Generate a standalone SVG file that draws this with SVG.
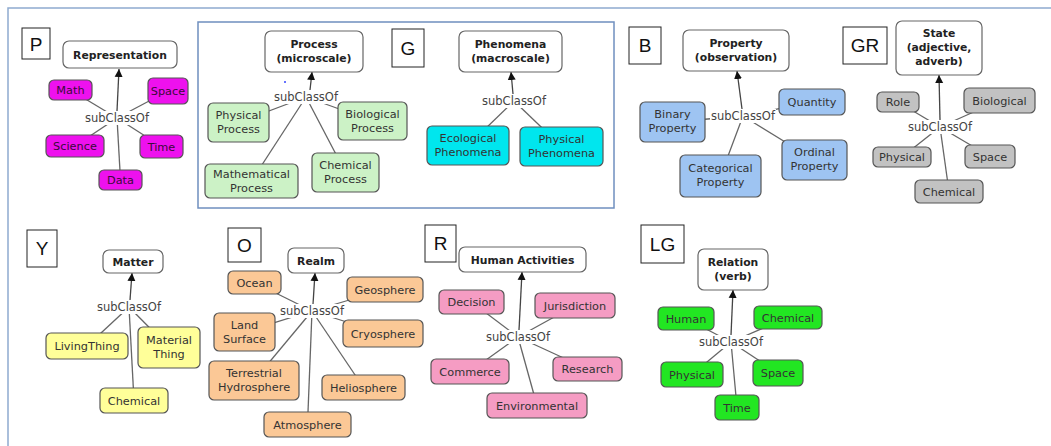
<svg xmlns="http://www.w3.org/2000/svg" width="1051" height="446" viewBox="0 0 1051 446">
<defs>
<marker id="ah" viewBox="0 0 10 10" refX="10" refY="5" markerWidth="8" markerHeight="9" markerUnits="userSpaceOnUse" orient="auto"><path d="M0,0 L10,5 L0,10 z" fill="#111"/></marker>
<style>
.frame{fill:none;stroke:#8eaad0;stroke-width:1.5}
.inner{fill:none;stroke:#6f8fbf;stroke-width:1.5}
.lbox{fill:#fff;stroke:#222;stroke-width:1}
.ltxt{font-family:"Liberation Sans",Arial,sans-serif;font-size:19px;fill:#111;text-anchor:middle}
.n rect{stroke:#555;stroke-width:1.2}
.n text{font-family:"DejaVu Sans",Verdana,sans-serif;font-size:11.3px;fill:#333;text-anchor:middle}
.top rect{fill:#fff;stroke:#666;stroke-width:1.2}
.top text{font-family:"DejaVu Sans",Verdana,sans-serif;font-size:10.8px;font-weight:bold;fill:#222;text-anchor:middle}
.lp rect{fill:#fff;stroke:none}
.lp text{font-family:"DejaVu Sans",Verdana,sans-serif;font-size:11.5px;fill:#444;text-anchor:middle}
.c line{stroke:#666;stroke-width:1.3}
.c line.ar{stroke:#444;marker-end:url(#ah)}
.mag rect{fill:#ee11ee}
.mag text{fill:#3a0a3a}
.lgr rect{fill:#ccf2c6}
.cy rect{fill:#00e6ee}
.bl rect{fill:#9ec4f2}
.gy rect{fill:#c2c2c2}
.ye rect{fill:#ffff99}
.or rect{fill:#fbc896}
.pk rect{fill:#f59cc3}
.gr rect{fill:#22e622}
</style>
</defs>
<rect width="1051" height="446" fill="#fff"/>
<rect class="frame" x="8" y="8" width="1100" height="500"/>
<rect class="inner" x="198" y="22" width="416" height="186"/>

<!-- letter labels -->
<g id="lab-P"><rect class="lbox" x="22" y="28" width="28" height="31"/><text class="ltxt" x="36" y="50.5">P</text></g>
<g id="lab-G"><rect class="lbox" x="392" y="29" width="32" height="38"/><text class="ltxt" x="408" y="55">G</text></g>
<g id="lab-B"><rect class="lbox" x="629" y="27" width="32" height="37"/><text class="ltxt" x="645" y="52">B</text></g>
<g id="lab-GR"><rect class="lbox" x="843" y="27" width="44" height="37"/><text class="ltxt" x="865" y="52">GR</text></g>
<g id="lab-Y"><rect class="lbox" x="27" y="230" width="30" height="37"/><text class="ltxt" x="42" y="255">Y</text></g>
<g id="lab-O"><rect class="lbox" x="228" y="228" width="33" height="34"/><text class="ltxt" x="244.5" y="252">O</text></g>
<g id="lab-R"><rect class="lbox" x="425" y="225" width="31" height="37"/><text class="ltxt" x="440.5" y="250">R</text></g>
<g id="lab-LG"><rect class="lbox" x="641" y="225" width="43" height="38"/><text class="ltxt" x="662.5" y="251">LG</text></g>

<circle cx="285" cy="82" r="1" fill="#3344ff"/>

<g id="connectors" class="c">
<!-- P -->
<line class="ar" x1="117" y1="111" x2="119" y2="69"/>
<line x1="117" y1="118" x2="70.5" y2="90"/>
<line x1="117" y1="118" x2="168" y2="91"/>
<line x1="117" y1="118" x2="75" y2="146"/>
<line x1="117" y1="118" x2="161.5" y2="146.5"/>
<line x1="117" y1="118" x2="120.5" y2="180"/>
<!-- Process -->
<line class="ar" x1="310" y1="90" x2="312" y2="72"/>
<line x1="306" y1="97" x2="238.5" y2="122.5"/>
<line x1="306" y1="97" x2="372.5" y2="121"/>
<line x1="306" y1="97" x2="251.5" y2="181"/>
<line x1="306" y1="97" x2="345.5" y2="172.5"/>
<!-- Phenomena -->
<line class="ar" x1="513" y1="94" x2="511" y2="72"/>
<line x1="514" y1="101" x2="468" y2="145.5"/>
<line x1="514" y1="101" x2="561.5" y2="146.5"/>
<!-- Property -->
<line class="ar" x1="742" y1="109" x2="737" y2="71"/>
<line x1="743" y1="116" x2="672.5" y2="122"/>
<line x1="743" y1="116" x2="812" y2="102"/>
<line x1="743" y1="116" x2="720.5" y2="176"/>
<line x1="743" y1="116" x2="814.5" y2="160"/>
<!-- State -->
<line class="ar" x1="940" y1="120" x2="939" y2="75"/>
<line x1="940" y1="127" x2="898" y2="102"/>
<line x1="940" y1="127" x2="999.5" y2="100.5"/>
<line x1="940" y1="127" x2="902" y2="157"/>
<line x1="940" y1="127" x2="990" y2="156.5"/>
<line x1="940" y1="127" x2="949" y2="191.5"/>
<!-- Matter -->
<line class="ar" x1="130" y1="300" x2="132" y2="273"/>
<line x1="129" y1="307" x2="87" y2="346"/>
<line x1="129" y1="307" x2="169" y2="347.5"/>
<line x1="129" y1="307" x2="134" y2="400.5"/>
<!-- Realm -->
<line class="ar" x1="313" y1="304" x2="315" y2="273"/>
<line x1="312" y1="311" x2="254.5" y2="282.5"/>
<line x1="312" y1="311" x2="385" y2="289.5"/>
<line x1="312" y1="311" x2="244.5" y2="332"/>
<line x1="312" y1="311" x2="383" y2="333.5"/>
<line x1="312" y1="311" x2="254" y2="380.5"/>
<line x1="312" y1="311" x2="363.5" y2="387.5"/>
<line x1="312" y1="311" x2="307.5" y2="424.5"/>
<!-- Human Activities -->
<line class="ar" x1="519" y1="330" x2="522" y2="272"/>
<line x1="518" y1="337" x2="471.5" y2="302"/>
<line x1="518" y1="337" x2="575" y2="305.5"/>
<line x1="518" y1="337" x2="470" y2="371.5"/>
<line x1="518" y1="337" x2="587.5" y2="369"/>
<line x1="518" y1="337" x2="537" y2="405.5"/>
<!-- Relation -->
<line class="ar" x1="731" y1="335" x2="733" y2="290"/>
<line x1="731" y1="342" x2="686" y2="318.5"/>
<line x1="731" y1="342" x2="788" y2="317.5"/>
<line x1="731" y1="342" x2="692" y2="374.5"/>
<line x1="731" y1="342" x2="778" y2="373"/>
<line x1="731" y1="342" x2="737" y2="407.5"/>
</g>

<!-- linking phrases -->
<g id="lp-P" class="lp"><rect x="84" y="111" width="66" height="14"/><text x="117" y="122">subClassOf</text></g>
<g id="lp-Process" class="lp"><rect x="273" y="90" width="66" height="14"/><text x="306" y="101">subClassOf</text></g>
<g id="lp-Phen" class="lp"><rect x="481" y="94" width="66" height="14"/><text x="514" y="105">subClassOf</text></g>
<g id="lp-B" class="lp"><rect x="710" y="109" width="66" height="14"/><text x="743" y="120">subClassOf</text></g>
<g id="lp-GR" class="lp"><rect x="907" y="120" width="66" height="14"/><text x="940" y="131">subClassOf</text></g>
<g id="lp-Y" class="lp"><rect x="96" y="300" width="66" height="14"/><text x="129" y="311">subClassOf</text></g>
<g id="lp-O" class="lp"><rect x="279" y="304" width="66" height="14"/><text x="312" y="315">subClassOf</text></g>
<g id="lp-R" class="lp"><rect x="485" y="330" width="66" height="14"/><text x="518" y="341">subClassOf</text></g>
<g id="lp-LG" class="lp"><rect x="698" y="335" width="66" height="14"/><text x="731" y="346">subClassOf</text></g>

<!-- P -->
<g id="Representation" class="n top"><rect x="63" y="41" width="114" height="27" rx="6"/><text x="120" y="58.5">Representation</text></g>
<g id="P-Math" class="n mag"><rect x="49" y="80" width="43" height="20" rx="5"/><text x="70.5" y="94">Math</text></g>
<g id="P-Space" class="n mag"><rect x="148" y="78" width="40" height="26" rx="5"/><text x="168" y="95">Space</text></g>
<g id="P-Science" class="n mag"><rect x="46" y="135" width="58" height="22" rx="5"/><text x="75" y="150">Science</text></g>
<g id="P-Time" class="n mag"><rect x="140" y="135" width="43" height="23" rx="5"/><text x="161.5" y="150.5">Time</text></g>
<g id="P-Data" class="n mag"><rect x="99" y="170" width="43" height="20" rx="5"/><text x="120.5" y="184">Data</text></g>

<!-- Process -->
<g id="Process" class="n top"><rect x="265" y="31" width="98" height="41" rx="6"/><text x="314" y="48">Process</text><text x="314" y="62">(microscale)</text></g>
<g id="G-PhysProc" class="n lgr"><rect x="208" y="103" width="61" height="39" rx="5"/><text x="238.5" y="119">Physical</text><text x="238.5" y="133">Process</text></g>
<g id="G-BioProc" class="n lgr"><rect x="338" y="102" width="69" height="38" rx="5"/><text x="372.5" y="118">Biological</text><text x="372.5" y="132">Process</text></g>
<g id="G-MathProc" class="n lgr"><rect x="205" y="164" width="93" height="34" rx="5"/><text x="251.5" y="178">Mathematical</text><text x="251.5" y="192">Process</text></g>
<g id="G-ChemProc" class="n lgr"><rect x="312" y="153" width="67" height="39" rx="5"/><text x="345.5" y="169">Chemical</text><text x="345.5" y="183">Process</text></g>

<!-- Phenomena -->
<g id="Phenomena" class="n top"><rect x="459" y="31" width="103" height="41" rx="6"/><text x="510.5" y="48">Phenomena</text><text x="510.5" y="62">(macroscale)</text></g>
<g id="G-EcoPhen" class="n cy"><rect x="427" y="126" width="82" height="39" rx="5"/><text x="468" y="142">Ecological</text><text x="468" y="156">Phenomena</text></g>
<g id="G-PhysPhen" class="n cy"><rect x="520" y="127" width="83" height="39" rx="5"/><text x="561.5" y="143">Physical</text><text x="561.5" y="157">Phenomena</text></g>

<!-- Property -->
<g id="Property" class="n top"><rect x="683" y="30" width="106" height="41" rx="6"/><text x="736" y="47">Property</text><text x="736" y="61">(observation)</text></g>
<g id="B-Binary" class="n bl"><rect x="640" y="102" width="65" height="40" rx="5"/><text x="672.5" y="118">Binary</text><text x="672.5" y="132">Property</text></g>
<g id="B-Quantity" class="n bl"><rect x="779" y="89" width="66" height="26" rx="5"/><text x="812" y="106">Quantity</text></g>
<g id="B-Categorical" class="n bl"><rect x="680" y="155" width="81" height="42" rx="5"/><text x="720.5" y="172">Categorical</text><text x="720.5" y="186">Property</text></g>
<g id="B-Ordinal" class="n bl"><rect x="782" y="140" width="65" height="40" rx="5"/><text x="814.5" y="156">Ordinal</text><text x="814.5" y="170">Property</text></g>

<!-- State -->
<g id="State" class="n top"><rect x="896" y="21" width="86" height="54" rx="6"/><text x="939" y="37">State</text><text x="939" y="51">(adjective,</text><text x="939" y="65">adverb)</text></g>
<g id="GR-Role" class="n gy"><rect x="877" y="92" width="42" height="20" rx="5"/><text x="898" y="106">Role</text></g>
<g id="GR-Biological" class="n gy"><rect x="964" y="88" width="71" height="25" rx="5"/><text x="999.5" y="104.5">Biological</text></g>
<g id="GR-Physical" class="n gy"><rect x="873" y="147" width="58" height="20" rx="5"/><text x="902" y="161">Physical</text></g>
<g id="GR-Space" class="n gy"><rect x="965" y="145" width="50" height="23" rx="5"/><text x="990" y="160.5">Space</text></g>
<g id="GR-Chemical" class="n gy"><rect x="915" y="180" width="68" height="23" rx="5"/><text x="949" y="195.5">Chemical</text></g>

<!-- Matter -->
<g id="Matter" class="n top"><rect x="103" y="250" width="60" height="23" rx="6"/><text x="133" y="265.5">Matter</text></g>
<g id="Y-Living" class="n ye"><rect x="46" y="333" width="82" height="26" rx="5"/><text x="87" y="350">LivingThing</text></g>
<g id="Y-Material" class="n ye"><rect x="138" y="327" width="62" height="41" rx="5"/><text x="169" y="344">Material</text><text x="169" y="358">Thing</text></g>
<g id="Y-Chemical" class="n ye"><rect x="100" y="388" width="68" height="25" rx="5"/><text x="134" y="404.5">Chemical</text></g>

<!-- Realm -->
<g id="Realm" class="n top"><rect x="288" y="248" width="56" height="25" rx="6"/><text x="316" y="264.5">Realm</text></g>
<g id="O-Ocean" class="n or"><rect x="228" y="271" width="53" height="23" rx="5"/><text x="254.5" y="286.5">Ocean</text></g>
<g id="O-Geosphere" class="n or"><rect x="347" y="277" width="76" height="25" rx="5"/><text x="385" y="293.5">Geosphere</text></g>
<g id="O-Land" class="n or"><rect x="214" y="313" width="61" height="38" rx="5"/><text x="244.5" y="329">Land</text><text x="244.5" y="343">Surface</text></g>
<g id="O-Cryosphere" class="n or"><rect x="343" y="320" width="80" height="27" rx="5"/><text x="383" y="337.5">Cryosphere</text></g>
<g id="O-Terrestrial" class="n or"><rect x="209" y="361" width="90" height="39" rx="5"/><text x="254" y="377">Terrestrial</text><text x="254" y="391">Hydrosphere</text></g>
<g id="O-Heliosphere" class="n or"><rect x="322" y="375" width="83" height="25" rx="5"/><text x="363.5" y="391.5">Heliosphere</text></g>
<g id="O-Atmosphere" class="n or"><rect x="264" y="412" width="87" height="25" rx="5"/><text x="307.5" y="428.5">Atmosphere</text></g>

<!-- Human Activities -->
<g id="HumanActivities" class="n top"><rect x="459" y="247" width="127" height="25" rx="6"/><text x="522.5" y="263.5">Human Activities</text></g>
<g id="R-Decision" class="n pk"><rect x="439" y="290" width="65" height="24" rx="5"/><text x="471.5" y="306">Decision</text></g>
<g id="R-Jurisdiction" class="n pk"><rect x="535" y="293" width="80" height="25" rx="5"/><text x="575" y="309.5">Jurisdiction</text></g>
<g id="R-Commerce" class="n pk"><rect x="431" y="359" width="78" height="25" rx="5"/><text x="470" y="375.5">Commerce</text></g>
<g id="R-Research" class="n pk"><rect x="553" y="357" width="69" height="24" rx="5"/><text x="587.5" y="373">Research</text></g>
<g id="R-Environmental" class="n pk"><rect x="487" y="393" width="100" height="25" rx="5"/><text x="537" y="409.5">Environmental</text></g>

<!-- Relation -->
<g id="Relation" class="n top"><rect x="698" y="249" width="70" height="41" rx="6"/><text x="733" y="266">Relation</text><text x="733" y="280">(verb)</text></g>
<g id="LG-Human" class="n gr"><rect x="658" y="307" width="56" height="23" rx="5"/><text x="686" y="322.5">Human</text></g>
<g id="LG-Chemical" class="n gr"><rect x="754" y="306" width="68" height="23" rx="5"/><text x="788" y="321.5">Chemical</text></g>
<g id="LG-Physical" class="n gr"><rect x="661" y="362" width="62" height="25" rx="5"/><text x="692" y="378.5">Physical</text></g>
<g id="LG-Space" class="n gr"><rect x="753" y="360" width="50" height="26" rx="5"/><text x="778" y="377">Space</text></g>
<g id="LG-Time" class="n gr"><rect x="715" y="395" width="44" height="25" rx="5"/><text x="737" y="411.5">Time</text></g>
</svg>
